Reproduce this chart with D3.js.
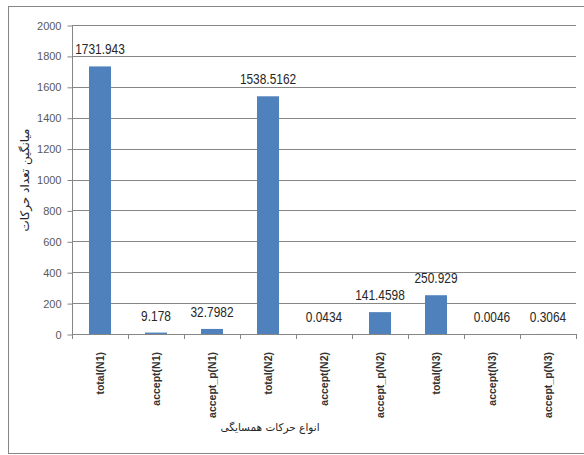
<!DOCTYPE html>
<html>
<head>
<meta charset="utf-8">
<script src="https://cdn.jsdelivr.net/npm/d3@7/dist/d3.min.js"></script>
<style>
  html, body { margin: 0; padding: 0; background: #fff; }
  svg { display: block; }
</style>
</head>
<body>
<svg id="chart" width="584" height="455"></svg>
<script>
const categories = ["total(N1)", "accept(N1)", "accept_p(N1)", "total(N2)", "accept(N2)", "accept_p(N2)", "total(N3)", "accept(N3)", "accept_p(N3)"];
const values = [1731.943, 9.178, 32.7982, 1538.5162, 0.0434, 141.4598, 250.929, 0.0046, 0.3064];
const valueLabels = ["1731.943", "9.178", "32.7982", "1538.5162", "0.0434", "141.4598", "250.929", "0.0046", "0.3064"];
const yTicks = [0, 200, 400, 600, 800, 1000, 1200, 1400, 1600, 1800, 2000];
const yTitle = "میانگین تعداد حرکات";
const xTitle = "انواع حرکات همسایگی";

const svg = d3.select("#chart");
const plot = { left: 72, right: 576, top: 25, bottom: 334 };

// outer border
svg.append("rect")
  .attr("x", 8.5).attr("y", 6.5)
  .attr("width", 590).attr("height", 447)
  .attr("fill", "#fff").attr("stroke", "#868686").attr("stroke-width", 1);

const xb = d3.scaleBand().domain(categories).range([plot.left, plot.right]);
const y = d3.scaleLinear().domain([0, 2000]).range([plot.bottom, plot.top]);

// gridlines
svg.append("g").selectAll("line").data(yTicks.filter(d => d > 0)).join("line")
  .attr("x1", plot.left).attr("x2", plot.right)
  .attr("y1", d => Math.round(y(d)) + 0.5).attr("y2", d => Math.round(y(d)) + 0.5)
  .attr("stroke", "#868686").attr("stroke-width", 1);

// y axis
const yAxis = d3.axisLeft(y).tickValues(yTicks).tickSize(5).tickPadding(6).tickFormat(d3.format("d"));
const gy = svg.append("g").attr("transform", `translate(${plot.left + 0.5},0.5)`).call(yAxis);
gy.select(".domain").attr("stroke", "#868686").attr("d", `M0,${plot.top}V${plot.bottom}`);
gy.selectAll(".tick line").attr("stroke", "#868686");
gy.selectAll(".tick text").attr("fill", "#595959")
  .style("font-family", "'Liberation Sans', Arial, sans-serif").style("font-size", "11px");

// bars
svg.append("g").selectAll("rect").data(values).join("rect")
  .attr("x", (d, i) => xb(categories[i]) + xb.bandwidth() / 2 - 11)
  .attr("width", 22)
  .attr("y", d => y(d))
  .attr("height", d => y(0) - y(d))
  .attr("fill", "#4f81bd");

// x axis
const gx = svg.append("g").attr("transform", `translate(0,${plot.bottom + 0.5})`)
  .call(d3.axisBottom(xb).tickSize(0).tickFormat(""));
gx.select(".domain").attr("stroke", "#868686").attr("d", `M${plot.left},0H${plot.right}`);
svg.append("g").selectAll("line").data(d3.range(categories.length + 1)).join("line")
  .attr("x1", i => Math.round(plot.left + i * xb.step()) + 0.5)
  .attr("x2", i => Math.round(plot.left + i * xb.step()) + 0.5)
  .attr("y1", plot.bottom).attr("y2", plot.bottom + 5)
  .attr("stroke", "#868686");

// x labels
svg.append("g").selectAll("text").data(categories).join("text")
  .attr("transform", d => `translate(${xb(d) + xb.bandwidth() / 2},352) rotate(-90)`)
  .attr("text-anchor", "end")
  .attr("dominant-baseline", "central")
  .attr("fill", "#333")
  .style("font-family", "'Liberation Sans', Arial, sans-serif")
  .style("font-size", "10.5px")
  .style("font-weight", "bold")
  .text(d => d);

// value labels (condensed)
svg.append("g").selectAll("text").data(values).join("text")
  .attr("transform", (d, i) => `translate(${xb(categories[i]) + xb.bandwidth() / 2},${y(d) - 12}) scale(0.85,1)`)
  .attr("text-anchor", "middle")
  .attr("fill", "#262626")
  .style("font-family", "'Liberation Sans', Arial, sans-serif")
  .style("font-size", "14px")
  .text((d, i) => valueLabels[i]);

// y title
svg.append("text")
  .attr("transform", "translate(25,180) rotate(-90)")
  .attr("text-anchor", "middle")
  .attr("dominant-baseline", "central")
  .attr("fill", "#262626")
  .style("font-family", "'DejaVu Sans', 'Noto Sans', sans-serif")
  .style("font-size", "12px")
  .text(yTitle);

// x title
svg.append("text")
  .attr("x", 270).attr("y", 427)
  .attr("text-anchor", "middle")
  .attr("dominant-baseline", "central")
  .attr("fill", "#262626")
  .style("font-family", "'DejaVu Sans', 'Noto Sans', sans-serif")
  .style("font-size", "10.5px")
  .text(xTitle);
</script>
</body>
</html>
